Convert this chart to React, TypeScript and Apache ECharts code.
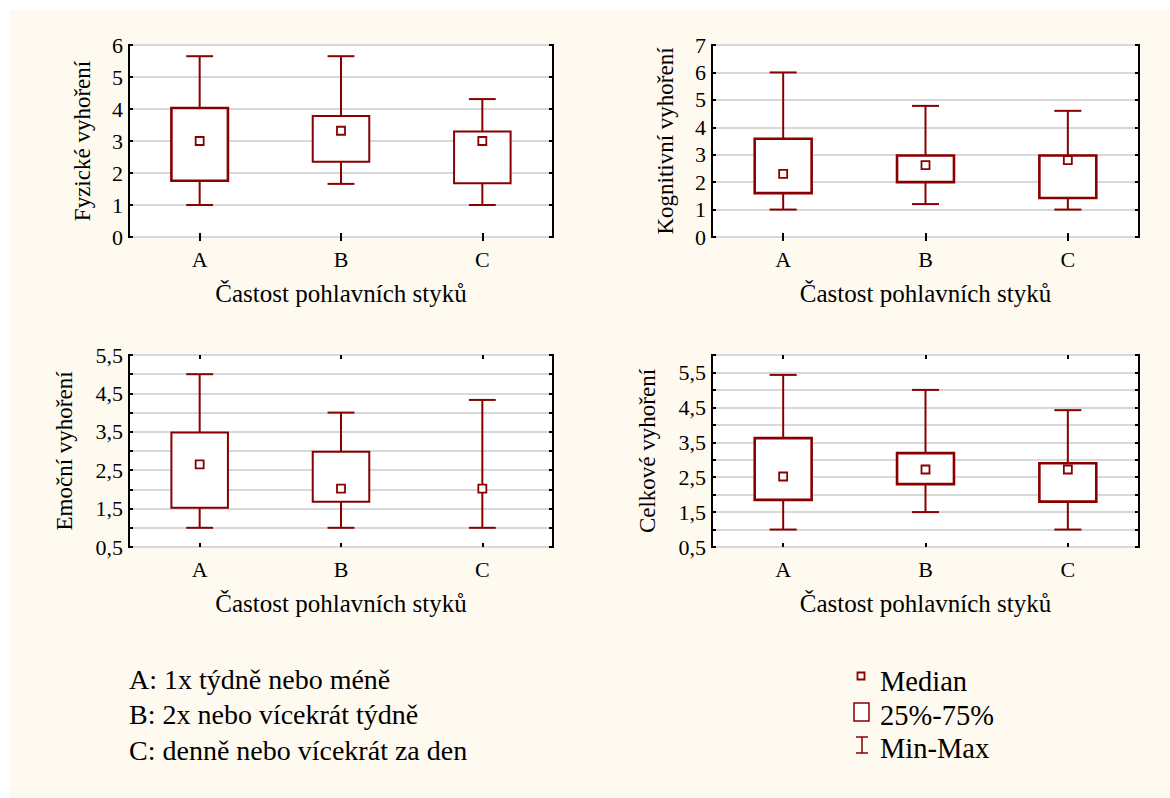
import React, { useEffect, useRef } from "react";
import * as echarts from "echarts";

// ---- data (min, Q1, median, Q3, max) ----
const categories = ["A", "B", "C"];
const fyzicke = [
  [1.0, 1.76, 3.0, 4.03, 5.65],
  [1.66, 2.35, 3.32, 3.78, 5.65],
  [1.0, 1.68, 3.0, 3.3, 4.31],
];
const kognitivni = [
  [1.0, 1.6, 2.3, 3.58, 6.0],
  [1.2, 2.0, 2.62, 2.97, 4.78],
  [1.0, 1.42, 2.8, 2.97, 4.6],
];
const emocni = [
  [1.0, 1.52, 2.65, 3.48, 5.0],
  [1.0, 1.68, 2.02, 2.98, 4.0],
  [1.0, 2.0, 2.02, 2.0, 4.33],
];
const celkove = [
  [1.0, 1.85, 2.52, 3.62, 5.43],
  [1.5, 2.3, 2.72, 3.19, 5.0],
  [1.0, 1.8, 2.72, 2.9, 4.42],
];
const yNames = ["Fyzické vyhoření", "Kognitivní vyhoření", "Emoční vyhoření", "Celkové vyhoření"];
const xName = "Častost pohlavních styků";
const yMins = [0, 0, 0.5, 0.5];
const yMaxs = [6, 7, 5.5, 6];
const yIntervals = [1, 1, 0.5, 0.5];
const legendLeft = ["A: 1x týdně nebo méně", "B: 2x nebo vícekrát týdně", "C: denně nebo vícekrát za den"];
const legendRight = ["Median", "25%-75%", "Min-Max"];

const panels = [fyzicke, kognitivni, emocni, celkove];

// ---- styles / layout ----
const RED = "#880000";
const FONT = "'Liberation Serif', 'Times New Roman', 'DejaVu Serif', serif";
const grids = [
  { left: 129, top: 45, width: 424, height: 192 },
  { left: 712, top: 45, width: 427, height: 192 },
  { left: 129, top: 355, width: 424, height: 192 },
  { left: 712, top: 355, width: 427, height: 192 },
];
const nameGaps = [35, 35, 53, 53];
const boxWidths = [[2.6, 2, 2], [2.6, 2.6, 2.6], [2, 2, 2], [2.6, 2.6, 2.6]];
const leftLegendY = [679, 714.5, 750];
const rightLegendY = [681, 715, 748];

function makeRender(panelIdx: number) {
  return (params: any, api: any) => {
    const x = api.value(0);
    const vMin = api.value(1);
    const q1 = api.value(2);
    const med = api.value(3);
    const q3 = api.value(4);
    const vMax = api.value(5);
    const band = api.size([1, 0])[0];
    const bw = band * 0.4;
    const cw = band * 0.19;
    const pMin = api.coord([x, vMin]);
    const pQ1 = api.coord([x, q1]);
    const pMed = api.coord([x, med]);
    const pQ3 = api.coord([x, q3]);
    const pMax = api.coord([x, vMax]);
    const cx = pMin[0];
    const lw = boxWidths[panelIdx][x];
    const children: any[] = [
      { type: "line", shape: { x1: cx, y1: pMax[1], x2: cx, y2: pMin[1] }, style: { stroke: RED, lineWidth: 2 } },
      { type: "line", shape: { x1: cx - cw / 2, y1: pMax[1], x2: cx + cw / 2, y2: pMax[1] }, style: { stroke: RED, lineWidth: 2 } },
      { type: "line", shape: { x1: cx - cw / 2, y1: pMin[1], x2: cx + cw / 2, y2: pMin[1] }, style: { stroke: RED, lineWidth: 2 } },
    ];
    if (Math.abs(q3 - q1) > 1e-9) {
      children.push({
        type: "rect",
        shape: { x: cx - bw / 2, y: pQ3[1], width: bw, height: pQ1[1] - pQ3[1] },
        style: { fill: "#fff", stroke: RED, lineWidth: lw },
      });
    }
    children.push({
      type: "rect",
      shape: { x: cx - 4, y: pMed[1] - 4, width: 8, height: 8 },
      style: { fill: "#fff", stroke: RED, lineWidth: 1.8 },
    });
    return { type: "group", children };
  };
}

function fmt(v: number, half: boolean) {
  if (half && Math.abs((v % 1) - 0.5) > 1e-9) return "";
  return String(v).replace(".", ",");
}

export default function App() {
  const ref = useRef<HTMLDivElement>(null);
  useEffect(() => {
    if (!ref.current) return;
    const chart = echarts.init(ref.current, null, { renderer: "svg" });
    const xAxes: any[] = [];
    const yAxes: any[] = [];
    const series: any[] = [];
    grids.forEach((g, i) => {
      const half = yIntervals[i] === 0.5;
      xAxes.push({
        type: "category",
        gridIndex: i,
        data: categories,
        position: "bottom",
        name: xName,
        nameLocation: "middle",
        nameGap: 44,
        nameTextStyle: { fontFamily: FONT, fontSize: 25, color: "#000" },
        axisLine: { show: false },
        axisTick: { show: true, inside: true, alignWithLabel: true, length: 4, lineStyle: { color: "#000", width: 2 } },
        axisLabel: { fontFamily: FONT, fontSize: 22, color: "#000", margin: 11 },
        splitLine: { show: false },
      });
      xAxes.push({
        type: "category",
        gridIndex: i,
        data: categories,
        position: "top",
        axisLine: { show: false },
        axisTick: { show: true, inside: true, alignWithLabel: true, length: 4, lineStyle: { color: "#000", width: 2 } },
        axisLabel: { show: false },
        splitLine: { show: false },
      });
      yAxes.push({
        type: "value",
        gridIndex: i,
        position: "left",
        min: yMins[i],
        max: yMaxs[i],
        interval: yIntervals[i],
        name: yNames[i],
        nameLocation: "middle",
        nameGap: nameGaps[i],
        nameRotate: 90,
        nameTextStyle: { fontFamily: FONT, fontSize: 23, color: "#000" },
        axisLine: { show: false },
        axisTick: { show: true, inside: true, length: 4, lineStyle: { color: "#000", width: 2 } },
        axisLabel: {
          fontFamily: FONT,
          fontSize: 22,
          color: "#000",
          margin: 6,
          formatter: (v: number) => fmt(v, half),
        },
        splitLine: { show: true, lineStyle: { color: "#d8d8d8", width: 2 } },
      });
      yAxes.push({
        type: "value",
        gridIndex: i,
        position: "right",
        min: yMins[i],
        max: yMaxs[i],
        interval: yIntervals[i],
        axisLine: { show: false },
        axisTick: { show: true, inside: true, length: 4, lineStyle: { color: "#000", width: 2 } },
        axisLabel: { show: false },
        splitLine: { show: false },
      });
      series.push({
        type: "custom",
        xAxisIndex: i * 2,
        yAxisIndex: i * 2,
        renderItem: makeRender(i),
        encode: { x: 0, y: [1, 2, 3, 4, 5] },
        data: panels[i].map((v, k) => [k, ...v]),
        z: 5,
      });
    });

    const graphic: any[] = [
      { type: "rect", z: -10, shape: { x: 10, y: 10, width: 1160, height: 788 }, style: { fill: "#fffaf0" } },
    ];
    legendLeft.forEach((t, k) => {
      graphic.push({
        type: "text",
        x: 129,
        y: leftLegendY[k],
        style: { text: t, fontFamily: FONT, fontSize: 28, fill: "#000", textVerticalAlign: "middle" },
      });
    });
    legendRight.forEach((t, k) => {
      graphic.push({
        type: "text",
        x: 880,
        y: rightLegendY[k],
        style: { text: t, fontFamily: FONT, fontSize: 28.5, fill: "#000", textVerticalAlign: "middle" },
      });
    });
    graphic.push(
      { type: "rect", shape: { x: 857.5, y: 672.5, width: 7, height: 7 }, style: { fill: "#fff", stroke: RED, lineWidth: 1.8 } },
      { type: "rect", shape: { x: 854, y: 703, width: 15, height: 18 }, style: { fill: "#fff", stroke: RED, lineWidth: 1.5 } },
      { type: "line", shape: { x1: 862, y1: 737, x2: 862, y2: 753 }, style: { stroke: RED, lineWidth: 1.5 } },
      { type: "line", shape: { x1: 856, y1: 737, x2: 868, y2: 737 }, style: { stroke: RED, lineWidth: 1.5 } },
      { type: "line", shape: { x1: 856, y1: 753, x2: 868, y2: 753 }, style: { stroke: RED, lineWidth: 1.5 } }
    );

    chart.setOption({
      animation: false,
      backgroundColor: "#ffffff",
      grid: grids.map((g) => ({
        ...g,
        show: true,
        backgroundColor: "#ffffff",
        borderColor: "#000",
        borderWidth: 2,
        containLabel: false,
      })),
      xAxis: xAxes,
      yAxis: yAxes,
      series,
      graphic,
    });
    return () => chart.dispose();
  }, []);
  return (
    <div
      ref={ref}
      style={{ position: "fixed", left: 0, top: 0, width: 1170, height: 798 }}
    />
  );
}
